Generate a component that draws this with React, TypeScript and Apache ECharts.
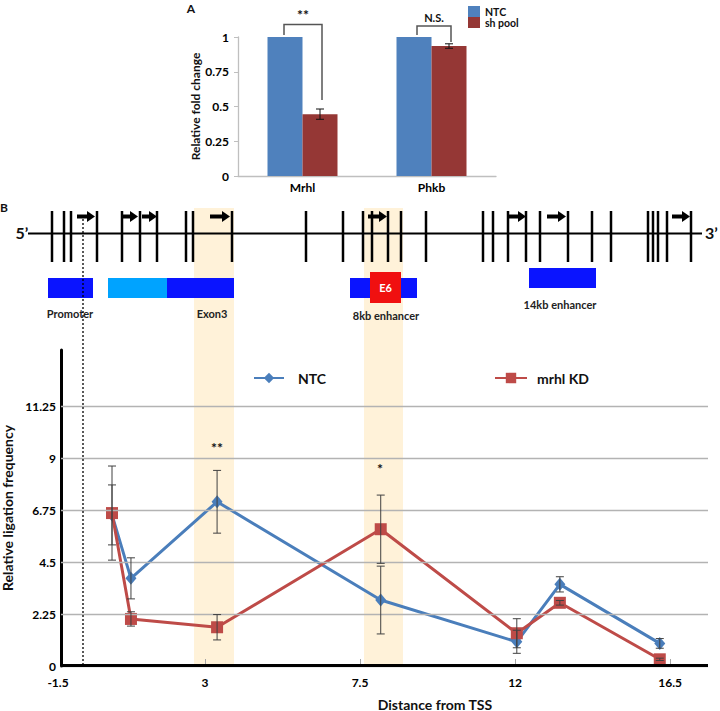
import React, { useEffect, useRef } from 'react';
import * as echarts from 'echarts';

// ---------- Panel A data ----------
const foldCategories = ['Mrhl', 'Phkb'];
const foldNTC = [1, 1];
const foldSh = [0.445, 0.935];
const foldShErr = [0.037, 0.016];
const foldTicks = ['0', '0.25', '0.5', '0.75', '1'];

// ---------- Panel B data ----------
const tssDistance = [0.3, 0.85, 3.35, 8.1, 12.05, 13.3, 16.2];
const ligNTC = [6.55, 3.8, 7.12, 2.86, 1.05, 3.54, 0.98];
const ligNTCErr = [1.3, 0.89, 1.36, 1.47, 0.5, 0.33, 0.21];
const ligKD = [6.63, 2.04, 1.68, 5.93, 1.42, 2.74, 0.29];
const ligKDErr = [2.04, 0.31, 0.55, 1.48, 0.63, 0.1, 0.05];
const ligYTicks = [0, 2.25, 4.5, 6.75, 9, 11.25];
const xTickLabels = ['-1.5', '3', '7.5', '12', '16.5'];

// ---------- Gene diagram layout ----------
const siteX = [52, 64, 71, 97, 122, 140, 157, 186, 193, 232, 306, 343, 363, 372, 388, 401, 426, 483, 493, 508, 526, 540, 568, 592, 611, 648, 653, 658, 667, 691];
const arrowSpans = [[77, 95], [123, 138], [142, 157], [210, 230], [368, 387], [508, 526], [547, 566], [672, 690]];
const boxes = [
  { x: 48, y: 278, w: 45, h: 20, c: '#0A14FF' },
  { x: 108, y: 278, w: 59, h: 20, c: '#00A3FF' },
  { x: 167, y: 278, w: 67, h: 20, c: '#0A14FF' },
  { x: 350, y: 278, w: 67, h: 20, c: '#0A14FF' },
  { x: 529, y: 268, w: 67, h: 20, c: '#0A14FF' },
  { x: 370, y: 272, w: 31, h: 31, c: '#F01010' },
];
const boxLabels = [
  { t: 'Promoter', x: 70, y: 313 },
  { t: 'Exon3', x: 212, y: 313 },
  { t: '8kb enhancer', x: 386, y: 315 },
  { t: '14kb enhancer', x: 560, y: 304 },
];
const bands = [[194, 234], [364, 403]];

const FONT = 'Lato, "Open Sans", "DejaVu Sans", sans-serif';
const BAR_W = 35;
const X_LEFT = -1.18;
const X_MAX = 17.6;

function txt(t: string, x: number, y: number, size: number, extra: any = {}) {
  return {
    type: 'text', x, y, z: 10,
    style: {
      text: t, fontSize: size, fontWeight: 'bold', fontFamily: FONT,
      fill: extra.fill || '#111', align: extra.align || 'center', textAlign: extra.align || 'center',
      verticalAlign: 'middle', textVerticalAlign: 'middle',
    },
  };
}

export default function App() {
  const ref = useRef<HTMLDivElement>(null);
  useEffect(() => {
    if (!ref.current) return;
    const chart = echarts.init(ref.current, undefined, { renderer: 'svg' });

    const elements: any[] = [];
    bands.forEach(([a, b]) => {
      elements.push({ type: 'rect', z: -5, shape: { x: a, y: 208, width: b - a, height: 458 }, style: { fill: '#FFF2D9' } });
    });
    elements.push(txt('A', 191, 8, 12));
    elements.push(txt('**', 303, 14, 14));
    elements.push(txt('N.S.', 434, 17, 11));
    elements.push({ type: 'polyline', z: 10, shape: { points: [[284, 35], [284, 24.5], [322, 24.5], [322, 100]] }, style: { stroke: '#555', lineWidth: 1.5, fill: null } });
    elements.push({ type: 'polyline', z: 10, shape: { points: [[417, 35], [417, 26], [451, 26], [451, 42]] }, style: { stroke: '#555', lineWidth: 1.5, fill: null } });
    elements.push(txt('B', 0, 207, 12, { align: 'left' }));
    elements.push(txt('5’', 22, 232, 16));
    elements.push(txt('3’', 705, 232, 16, { align: 'left' }));
    elements.push({ type: 'line', z: 10, shape: { x1: 28, y1: 233.5, x2: 702, y2: 233.5 }, style: { stroke: '#000', lineWidth: 2 } });
    siteX.forEach((x) => {
      elements.push({ type: 'line', z: 10, shape: { x1: x, y1: 211, x2: x, y2: 262 }, style: { stroke: '#000', lineWidth: 2.5 } });
    });
    arrowSpans.forEach(([a, b]) => {
      elements.push({ type: 'line', z: 11, shape: { x1: a, y1: 216.5, x2: b - 6, y2: 216.5 }, style: { stroke: '#000', lineWidth: 4 } });
      elements.push({ type: 'polygon', z: 11, shape: { points: [[b - 8, 211], [b, 216.5], [b - 8, 222]] }, style: { fill: '#000' } });
    });
    boxes.forEach((b) => {
      elements.push({ type: 'rect', z: 10, shape: { x: b.x, y: b.y, width: b.w, height: b.h }, style: { fill: b.c } });
    });
    elements.push(txt('E6', 385.5, 287.5, 11, { fill: '#fff' }));
    boxLabels.forEach((l) => elements.push(txt(l.t, l.x, l.y, 11, { fill: '#222' })));
    elements.push({ type: 'line', z: 10, shape: { x1: 83, y1: 215, x2: 83, y2: 665 }, style: { stroke: '#000', lineWidth: 1.3, lineDash: [2, 2] } });
    elements.push(txt('**', 217, 447, 14));
    elements.push(txt('*', 380, 468, 14));

    const errRender = (color: string, cap: number, dx: number) => (params: any, api: any) => {
      const x = api.value(0);
      const v = api.value(1);
      const e = api.value(2);
      const hi = api.coord([x, v + e]);
      const lo = api.coord([x, v - e]);
      const px = hi[0] + dx;
      const st = { stroke: color, lineWidth: 1 };
      return {
        type: 'group',
        children: [
          { type: 'line', shape: { x1: px, y1: hi[1], x2: px, y2: lo[1] }, style: st },
          { type: 'line', shape: { x1: px - cap, y1: hi[1], x2: px + cap, y2: hi[1] }, style: st },
          { type: 'line', shape: { x1: px - cap, y1: lo[1], x2: px + cap, y2: lo[1] }, style: st },
        ],
      };
    };

    const boldLabel = { fontWeight: 'bold', fontSize: 12, color: '#000', fontFamily: FONT };

    chart.setOption({
      animation: false,
      textStyle: { fontFamily: FONT },
      graphic: { elements },
      legend: [
        {
          orient: 'vertical', left: 463, top: 1, itemWidth: 12, itemHeight: 11, itemGap: 0,
          data: [{ name: 'NTC', icon: 'rect' }, { name: 'sh pool', icon: 'rect' }],
          textStyle: { fontSize: 10.5, fontWeight: 'bold', color: '#111', lineHeight: 11 },
          selectedMode: false,
        },
        {
          left: 248, top: 366, itemWidth: 30, itemHeight: 13,
          data: ['NTC-line'],
          formatter: () => 'NTC',
          textStyle: { fontSize: 14, fontWeight: 'bold', color: '#111', padding: [0, 0, 0, 9] },
          selectedMode: false,
        },
        {
          left: 489, top: 366, itemWidth: 32, itemHeight: 13,
          data: ['mrhl KD'],
          textStyle: { fontSize: 14, fontWeight: 'bold', color: '#111', padding: [0, 0, 0, 5] },
          selectedMode: false,
        },
      ],
      grid: [
        { left: 238, top: 37, width: 258, height: 139, containLabel: false, outerBoundsMode: 'none' },
        { left: 50, right: 12, top: 350, bottom: 45, containLabel: false, outerBoundsMode: 'none' },
      ],
      xAxis: [
        {
          type: 'category', gridIndex: 0, data: foldCategories,
          axisLine: { lineStyle: { color: '#BFBFBF', width: 1.3 } },
          axisTick: { length: 5, lineStyle: { color: '#BFBFBF' } },
          axisLabel: { ...boldLabel, margin: 5 },
        },
        {
          type: 'value', gridIndex: 1, min: -1.5, max: X_MAX, interval: 4.5,
          axisLine: { show: false, onZero: false },
          axisTick: { show: true, inside: true, length: 7, lineStyle: { color: '#A6A6A6' }, customValues: [3, 7.5, 12, 16.5] },
          splitLine: { show: false },
          axisLabel: {
            ...boldLabel, margin: 10,
            formatter: (v: number) => {
              const t = xTickLabels.find((s) => Math.abs(parseFloat(s) - v) < 1e-6) || '';
              return t === '-1.5' ? '{s|' + t + '}' : t;
            },
            rich: { s: { ...boldLabel, padding: [0, 0, 0, 16] } },
          },
          name: 'Distance from TSS', nameLocation: 'middle', nameGap: 31,
          nameTextStyle: { fontSize: 14, fontWeight: 'bold', color: '#111', padding: [0, 0, 0, 112] },
        },
      ],
      yAxis: [
        {
          type: 'value', gridIndex: 0, min: 0, max: 1, interval: 0.25,
          axisLine: { show: true, lineStyle: { color: '#BFBFBF', width: 1.3 } },
          axisTick: { show: true, length: 4, lineStyle: { color: '#BFBFBF' } },
          splitLine: { show: false },
          axisLabel: { ...boldLabel, margin: 9, formatter: (v: number) => foldTicks.find((t) => Math.abs(parseFloat(t) - v) < 1e-6) || '' },
          name: 'Relative fold change', nameLocation: 'middle', nameGap: 35,
          nameTextStyle: { fontSize: 12, fontWeight: 'bold', color: '#111' },
        },
        {
          type: 'value', gridIndex: 1, min: 0, max: 13.7, interval: 2.25, offset: -11,
          axisLine: { show: true, onZero: false, lineStyle: { color: '#000', width: 3 } },
          axisTick: { show: false },
          splitLine: { show: false },
          axisLabel: { ...boldLabel, margin: 5, formatter: (v: number) => (ligYTicks.some((t) => Math.abs(t - v) < 1e-6) ? String(v) : '') },
          name: 'Relative ligation frequency', nameLocation: 'middle', nameGap: 36,
          nameTextStyle: { fontSize: 14, fontWeight: 'bold', color: '#111' },
        },
      ],
      series: [
        {
          name: 'NTC', type: 'bar', xAxisIndex: 0, yAxisIndex: 0, data: foldNTC,
          barWidth: BAR_W, barGap: '0%', itemStyle: { color: '#4F81BD' },
        },
        {
          name: 'sh pool', type: 'bar', xAxisIndex: 0, yAxisIndex: 0, data: foldSh,
          barWidth: BAR_W, barGap: '0%', itemStyle: { color: '#953735' },
        },
        {
          name: 'shErr', type: 'custom', xAxisIndex: 0, yAxisIndex: 0, z: 5,
          renderItem: errRender('#111', 4, BAR_W / 2),
          encode: { x: 0, y: 1 },
          data: foldCategories.map((_, i) => [i, foldSh[i], foldShErr[i]]),
        },
        {
          name: 'grid', type: 'line', xAxisIndex: 1, yAxisIndex: 1, z: 1,
          data: [[X_LEFT, 0]], showSymbol: false, silent: true,
          markLine: {
            silent: true, symbol: 'none', label: { show: false },
            lineStyle: { color: '#B3B3B3', width: 1.3, type: 'solid' },
            data: ligYTicks.map((v) => [{ coord: [X_LEFT, v] }, { coord: [X_MAX, v] }]),
          },
        },
        {
          name: 'baseline', type: 'line', xAxisIndex: 1, yAxisIndex: 1, z: 6,
          data: [[X_LEFT, 0]], showSymbol: false, silent: true,
          markLine: {
            silent: true, symbol: 'none', label: { show: false },
            lineStyle: { color: '#000', width: 3, type: 'solid' },
            data: [[{ coord: [X_LEFT, 0.05] }, { coord: [X_MAX, 0.05] }]],
          },
        },
        {
          name: 'NTC-line', type: 'line', xAxisIndex: 1, yAxisIndex: 1, z: 3,
          data: tssDistance.map((x, i) => [x, ligNTC[i]]),
          symbol: 'diamond', symbolSize: [11, 13],
          lineStyle: { color: '#4A7EBB', width: 3 }, itemStyle: { color: '#4A7EBB' },
        },
        {
          name: 'mrhl KD', type: 'line', xAxisIndex: 1, yAxisIndex: 1, z: 4,
          data: tssDistance.map((x, i) => [x, ligKD[i]]),
          symbol: 'rect', symbolSize: 12,
          lineStyle: { color: '#BE4B48', width: 3 }, itemStyle: { color: '#BE4B48' },
        },
        {
          name: 'ntcErr', type: 'custom', xAxisIndex: 1, yAxisIndex: 1, z: 7,
          renderItem: errRender('#404040', 4, 0), encode: { x: 0, y: 1 },
          data: tssDistance.map((x, i) => [x, ligNTC[i], ligNTCErr[i]]),
        },
        {
          name: 'kdErr', type: 'custom', xAxisIndex: 1, yAxisIndex: 1, z: 7,
          renderItem: errRender('#404040', 4, 0), encode: { x: 0, y: 1 },
          data: tssDistance.map((x, i) => [x, ligKD[i], ligKDErr[i]]),
        },
      ],
    });
    return () => chart.dispose();
  }, []);
  return <div ref={ref} style={{ width: 720, height: 711, position: 'absolute', left: 0, top: 0, background: '#fff' }} />;
}
